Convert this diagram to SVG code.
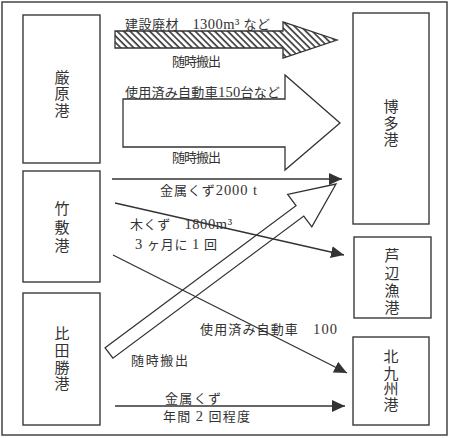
<svg xmlns="http://www.w3.org/2000/svg" width="450" height="438" viewBox="0 0 450 438">
<style>
.box{fill:#fff;stroke:#3a3a3a;stroke-width:1.4}
.t{font-family:"Liberation Serif","Noto Sans CJK JP",serif;fill:#333;font-size:13px}
.d{font-size:14.5px}
.v{font-family:"Liberation Serif","Noto Sans CJK JP",serif;fill:#333;font-size:15px;text-anchor:middle}
.ln{fill:none;stroke:#333;stroke-width:1.3}
.arr{stroke:#333;stroke-width:1.3;stroke-linejoin:miter}
</style>
<defs>
<pattern id="hatch" width="4.6" height="10" patternUnits="userSpaceOnUse" patternTransform="rotate(-45)">
<rect width="4.6" height="10" fill="#fff"/>
<line x1="1" y1="0" x2="1" y2="10" stroke="#333" stroke-width="1.6"/>
</pattern>
<marker id="ah" markerUnits="userSpaceOnUse" markerWidth="14" markerHeight="12" refX="13" refY="6" orient="auto">
<path d="M0,0 L13,6 L0,12 Z" fill="#333"/>
</marker>
</defs>
<rect x="2" y="2" width="445" height="433" fill="#fff" stroke="#444" stroke-width="1.5"/>

<g id="izuhara">
<rect class="box" x="23" y="15" width="77" height="148"/>
<text class="v" x="62" y="83">厳</text>
<text class="v" x="62" y="99">原</text>
<text class="v" x="62" y="116">港</text>
</g>
<g id="takeshiki">
<rect class="box" x="23" y="171" width="77" height="111"/>
<text class="v" x="62" y="214">竹</text>
<text class="v" x="62" y="233">敷</text>
<text class="v" x="62" y="251">港</text>
</g>
<g id="hitakatsu">
<rect class="box" x="23" y="293" width="77" height="132"/>
<text class="v" x="62" y="339">比</text>
<text class="v" x="62" y="356">田</text>
<text class="v" x="62" y="373">勝</text>
<text class="v" x="62" y="389">港</text>
</g>
<g id="hakata">
<rect class="box" x="353" y="13" width="76" height="211"/>
<text class="v" x="391" y="112">博</text>
<text class="v" x="391" y="129">多</text>
<text class="v" x="391" y="145">港</text>
</g>
<g id="ashibe">
<rect class="box" x="354" y="237" width="77" height="81"/>
<text class="v" x="392" y="261">芦</text>
<text class="v" x="392" y="279">辺</text>
<text class="v" x="392" y="296">漁</text>
<text class="v" x="392" y="313">港</text>
</g>
<g id="kitakyushu">
<rect class="box" x="353" y="337" width="76" height="88"/>
<text class="v" x="391" y="362">北</text>
<text class="v" x="391" y="379">九</text>
<text class="v" x="391" y="394">州</text>
<text class="v" x="391" y="410">港</text>
</g>

<g id="connectors">
<path class="arr" fill="url(#hatch)" d="M115,31 H283 V22 L337,40 L283,58 V48 H115 Z"/>
<path class="arr" fill="#fff" d="M123,99 H285 V75 L340,123 L285,170 V147 H123 Z"/>
<g transform="translate(109,353) rotate(-36.67)">
<path class="arr" fill="#fff" d="M0,-6.5 H238 V-20.5 L283,0 L238,20 V6.5 H0 Z"/>
</g>
<line class="ln" x1="112" y1="179" x2="342" y2="179" marker-end="url(#ah)"/>
<line class="ln" x1="115" y1="203" x2="344" y2="255" marker-end="url(#ah)"/>
<line class="ln" x1="113" y1="255" x2="347" y2="373" marker-end="url(#ah)"/>
<line class="ln" x1="115" y1="406" x2="345" y2="406" marker-end="url(#ah)"/>
</g>

<g id="labels">
<text class="t" x="125" y="29" textLength="145" lengthAdjust="spacing">建設廃材　<tspan class="d">1300m³</tspan> など</text>
<text class="t" x="172" y="66" textLength="49" lengthAdjust="spacing">随時搬出</text>
<text class="t" x="125" y="97" font-size="14" textLength="155" lengthAdjust="spacing">使用済み自動車<tspan class="d">150</tspan>台など</text>
<text class="t" x="172" y="162" textLength="49" lengthAdjust="spacing">随時搬出</text>
<text class="t" x="160" y="195" textLength="97" lengthAdjust="spacing">金属くず<tspan class="d">2000 t</tspan></text>
<text class="t" x="130" y="229" textLength="102" lengthAdjust="spacing">木くず　<tspan class="d">1800m³</tspan></text>
<text class="t" x="135" y="249" textLength="82" lengthAdjust="spacing"><tspan class="d">3</tspan> ヶ月に <tspan class="d">1</tspan> 回</text>
<text class="t" x="200" y="334" textLength="137" lengthAdjust="spacing">使用済み自動車　<tspan class="d">100</tspan></text>
<text class="t" x="131" y="365" textLength="57" lengthAdjust="spacing">随時搬出</text>
<text class="t" x="165" y="403" textLength="56" lengthAdjust="spacing">金属くず</text>
<text class="t" x="163" y="421" textLength="87" lengthAdjust="spacing">年間 <tspan class="d">2</tspan> 回程度</text>
</g>
</svg>
